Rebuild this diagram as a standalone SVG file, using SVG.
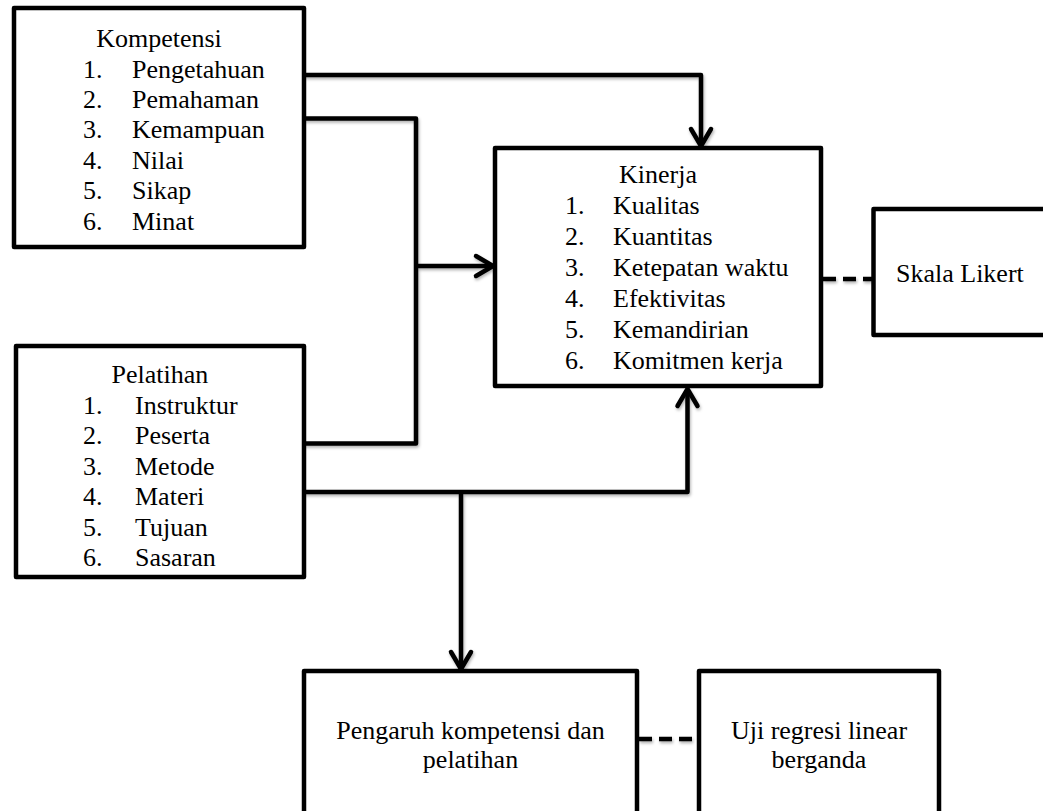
<svg xmlns="http://www.w3.org/2000/svg" width="1043" height="811" viewBox="0 0 1043 811">
<defs>
<style>
.box{fill:#fff;stroke:#000;stroke-width:4.5;stroke-linejoin:round}
.t{font-family:"Liberation Serif","Times New Roman",serif;font-size:26px;fill:#000}
.c{text-anchor:middle}
.ln{fill:none;stroke:#000;stroke-width:4.5;stroke-linejoin:round}
.dash{fill:none;stroke:#000;stroke-width:4.5;stroke-dasharray:13 7}
</style>
<marker id="arr" markerUnits="userSpaceOnUse" viewBox="-24 -16 30 32" refX="0" refY="0" markerWidth="30" markerHeight="32" orient="auto">
<path d="M-17,-10 L0,0 L-17,10" fill="none" stroke="#000" stroke-width="4.5" stroke-linejoin="round" stroke-linecap="round"/>
</marker>
<filter id="sh" x="-10%" y="-10%" width="120%" height="130%">
<feDropShadow dx="1" dy="2" stdDeviation="1.5" flood-color="#000" flood-opacity="0.3"/>
</filter>
</defs>
<rect width="1043" height="811" fill="#fff"/>

<g id="connectors" filter="url(#sh)">
<path class="ln" d="M304,75 H701 V146" marker-end="url(#arr)"/>
<path class="ln" d="M304,118.5 H416 V443.5 H304"/>
<path class="ln" d="M416,266 H493" marker-end="url(#arr)"/>
<path class="ln" d="M304,492 H687.5 V389" marker-end="url(#arr)"/>
<path class="ln" d="M461,492 V669" marker-end="url(#arr)"/>
<path class="dash" d="M823,279 H872"/>
<path class="dash" d="M639,739 H698"/>
</g>

<g id="kompetensi">
<rect class="box" x="14" y="8" width="290" height="239"/>
<text class="t c" x="159" y="47">Kompetensi</text>
<text class="t" x="83" y="77.5">1.</text><text class="t" x="132" y="77.5">Pengetahuan</text>
<text class="t" x="83" y="108">2.</text><text class="t" x="132" y="108">Pemahaman</text>
<text class="t" x="83" y="138">3.</text><text class="t" x="132" y="138">Kemampuan</text>
<text class="t" x="83" y="168.5">4.</text><text class="t" x="132" y="168.5">Nilai</text>
<text class="t" x="83" y="199">5.</text><text class="t" x="132" y="199">Sikap</text>
<text class="t" x="83" y="229.5">6.</text><text class="t" x="132" y="229.5">Minat</text>
</g>

<g id="pelatihan">
<rect class="box" x="16" y="346" width="288" height="231"/>
<text class="t c" x="160" y="383">Pelatihan</text>
<text class="t" x="83" y="413.5">1.</text><text class="t" x="135" y="413.5">Instruktur</text>
<text class="t" x="83" y="444">2.</text><text class="t" x="135" y="444">Peserta</text>
<text class="t" x="83" y="474.5">3.</text><text class="t" x="135" y="474.5">Metode</text>
<text class="t" x="83" y="505">4.</text><text class="t" x="135" y="505">Materi</text>
<text class="t" x="83" y="535.5">5.</text><text class="t" x="135" y="535.5">Tujuan</text>
<text class="t" x="83" y="566">6.</text><text class="t" x="135" y="566">Sasaran</text>
</g>

<g id="kinerja">
<rect class="box" x="495" y="148" width="326" height="238"/>
<text class="t c" x="658" y="183">Kinerja</text>
<text class="t" x="565" y="214">1.</text><text class="t" x="613" y="214">Kualitas</text>
<text class="t" x="565" y="245">2.</text><text class="t" x="613" y="245">Kuantitas</text>
<text class="t" x="565" y="276">3.</text><text class="t" x="613" y="276">Ketepatan waktu</text>
<text class="t" x="565" y="307">4.</text><text class="t" x="613" y="307">Efektivitas</text>
<text class="t" x="565" y="338">5.</text><text class="t" x="613" y="338">Kemandirian</text>
<text class="t" x="565" y="369">6.</text><text class="t" x="613" y="369">Komitmen kerja</text>
</g>

<g id="skala">
<rect class="box" x="873.5" y="209" width="200" height="126"/>
<text class="t" x="896" y="282">Skala Likert</text>
</g>

<g id="pengaruh">
<rect class="box" x="304" y="671" width="333" height="200"/>
<text class="t c" x="470.5" y="739">Pengaruh kompetensi dan</text>
<text class="t c" x="470.5" y="768">pelatihan</text>
</g>

<g id="uji">
<rect class="box" x="699" y="671" width="240" height="200"/>
<text class="t c" x="819" y="739">Uji regresi linear</text>
<text class="t c" x="819" y="768">berganda</text>
</g>
</svg>
